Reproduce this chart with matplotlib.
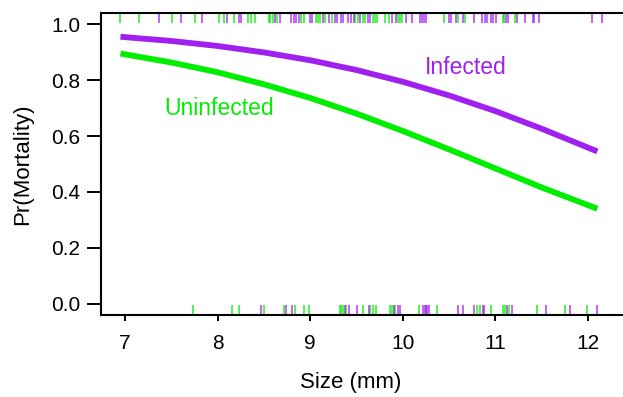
import numpy as np
import matplotlib.pyplot as plt
import matplotlib as mpl
import matplotlib.transforms as mtransforms

mpl.rcParams['font.family'] = ['Liberation Sans', 'DejaVu Sans']

# ---------- fitted curves ----------
size_grid = [6.95, 7.5, 8.0, 8.5, 9.0, 9.5, 10.0, 10.5, 11.0, 11.5, 12.1]
p_infected = [0.955, 0.940, 0.922, 0.899, 0.871, 0.836, 0.794, 0.745, 0.689, 0.626, 0.545]
p_uninfected = [0.895, 0.863, 0.828, 0.785, 0.736, 0.680, 0.618, 0.552, 0.484, 0.416, 0.340]

# ---------- rug data ----------
dead_uninf = [6.95, 7.15, 7.51, 7.75, 8.01, 8.07, 8.18, 8.33, 8.36, 8.40, 8.55, 8.57,
              8.60, 8.64, 8.90, 8.93, 9.06, 9.08, 9.11, 9.16, 9.23, 9.48, 9.52, 9.57,
              9.59, 9.68, 9.70, 9.72, 9.81, 9.85, 9.95, 9.97, 9.99, 10.44, 10.60,
              10.67, 11.08, 11.09, 11.21]
dead_inf = [7.37, 7.60, 7.83, 8.10, 8.23, 8.25, 8.62, 8.67, 8.79, 8.82, 8.85, 8.88,
            9.00, 9.02, 9.14, 9.20, 9.27, 9.29, 9.33, 9.35, 9.41, 9.44, 9.47, 9.54,
            9.62, 9.64, 9.88, 9.93, 10.03, 10.10, 10.18, 10.21, 10.23, 10.25, 10.50,
            10.52, 10.57, 10.65, 10.77, 10.85, 10.89, 10.91, 10.95, 10.97, 11.01,
            11.11, 11.13, 11.23, 11.32, 11.40, 11.42, 11.47, 12.04, 12.15]
alive_uninf = [7.73, 8.15, 8.23, 8.50, 8.72, 8.84, 8.93, 8.99, 9.32, 9.33, 9.35, 9.39,
               9.57, 9.65, 9.68, 9.71, 9.86, 9.88, 9.92, 10.17, 10.37, 10.80, 10.83,
               10.95, 11.08, 11.10, 11.15, 11.45, 11.75, 11.99]
alive_inf = [8.47, 8.74, 8.80, 9.37, 9.42, 9.50, 9.63, 9.90, 9.95, 9.97, 10.22, 10.24,
             10.25, 10.26, 10.28, 10.59, 10.65, 10.77, 10.86, 10.88, 11.12, 11.18,
             11.55, 11.81, 12.10]

purple = '#A020F0'
green = '#00EE00'

fig = plt.figure(figsize=(6.23, 3.97), dpi=100)
ax = fig.add_axes([101/623, 1-315/397, 522/623, 302/397])

ax.plot(size_grid, p_infected, color=purple, lw=4.2, solid_capstyle='butt')
ax.plot(size_grid, p_uninfected, color=green, lw=4.2, solid_capstyle='butt')

# rug ticks from the box edge inward
trans = mtransforms.blended_transform_factory(ax.transData, ax.transAxes)
ax.vlines(dead_uninf, 0.967, 1.0, color=green, lw=1.2, alpha=0.8, transform=trans)
ax.vlines(dead_inf, 0.967, 1.0, color=purple, lw=1.2, alpha=0.8, transform=trans)
ax.vlines(alive_uninf, 0.0, 0.033, color=green, lw=1.2, alpha=0.8, transform=trans)
ax.vlines(alive_inf, 0.0, 0.033, color=purple, lw=1.2, alpha=0.8, transform=trans)

ax.text(10.68, 0.846, 'Infected', color=purple, fontsize=16.5, ha='center', va='center')
ax.text(8.02, 0.70, 'Uninfected', color=green, fontsize=16.5, ha='center', va='center')

ax.set_xlim(6.74, 12.377)
ax.set_ylim(-0.04, 1.04)
ax.set_xticks([7, 8, 9, 10, 11, 12])
ax.set_yticks([0.0, 0.2, 0.4, 0.6, 0.8, 1.0])
ax.set_yticklabels(['0.0', '0.2', '0.4', '0.6', '0.8', '1.0'])
ax.tick_params(axis='y', length=10, width=1.4, labelsize=15, pad=5)
ax.tick_params(axis='x', length=4.5, width=1.4, labelsize=15, pad=9)
for s in ['left', 'bottom', 'top']:
    ax.spines[s].set_linewidth(1.5)
ax.spines['right'].set_visible(False)

ax.set_xlabel('Size (mm)', fontsize=16)
ax.set_ylabel('Pr(Mortality)', fontsize=16)
ax.xaxis.set_label_coords(0.478, -0.222)
ax.yaxis.set_label_coords(-0.151, 0.5)
ax.xaxis.label.set_va('center')
ax.yaxis.label.set_va('center')

fig.savefig('out.png', dpi=100)
